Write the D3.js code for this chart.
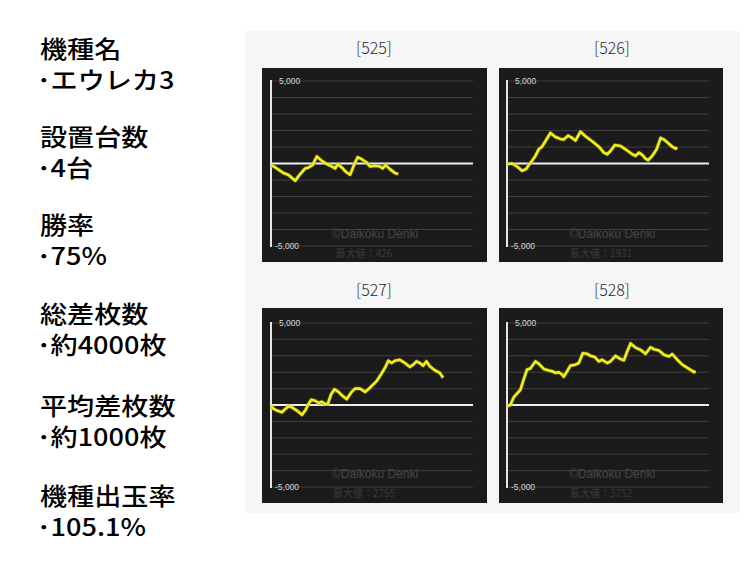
<!DOCTYPE html>
<html><head><meta charset="utf-8">
<script src="https://cdn.jsdelivr.net/npm/d3@7"></script>
<style>
html,body{margin:0;padding:0;background:#fff;}
svg{display:block;}
</style></head>
<body>
<script>
// ---- Data ----
const infoHeaders = ["機種名","設置台数","勝率","総差枚数","平均差枚数","機種出玉率"];
const infoValues  = ["･エウレカ3","･4台","･75%","･約4000枚","･約1000枚","･105.1%"];

const machineIds = ["[525]","[526]","[527]","[528]"];
const maxLabels  = ["最大値：426","最大値：1931","最大値：2755","最大値：3752"];
const yTicks = [5000,-5000];
const yTickLabels = ["5,000","-5,000"];
const gridValues = [-5000,-4000,-3000,-2000,-1000,1000,2000,3000,4000,5000];

// games played (x) and coin difference (y) per machine
const games525 = [0,171,500,697,960,1158,1355,1487,1645,1816,2013,2211,2408,2539,2645,2803,2961,3132,3329,3434,3592,3789,3921,4118,4316,4421,4539,4711,4908,5039];
const diff525  = [-100,-240,-580,-700,-1040,-640,-300,-240,-100,426,160,-40,-180,-300,-40,-240,-500,-680,60,380,260,60,-180,-140,-180,-300,-100,-340,-580,-640];

const games526 = [0,198,397,595,754,860,992,1124,1256,1388,1521,1719,1917,2116,2248,2420,2579,2711,2909,3107,3372,3636,3835,3967,4099,4271,4496,4694,4959,5091,5223,5355,5488,5593,5752,5924,6083,6215,6413,6545,6678,6744];
const diff526  = [-40,0,-180,-440,-340,-100,160,460,860,1020,1350,1850,1610,1490,1450,1690,1550,1390,1931,1650,1350,1020,660,560,760,1120,1060,860,560,460,660,520,300,200,460,860,1550,1450,1200,1020,900,960];

const games527 = [0,105,237,434,566,697,829,1026,1224,1355,1487,1592,1750,1882,2013,2145,2250,2382,2513,2671,2829,3000,3197,3329,3526,3724,3855,4053,4184,4355,4513,4645,4776,4908,5105,5303,5500,5632,5763,5895,6026,6158,6289,6487,6684,6816];
const diff527  = [-40,-240,-340,-440,-240,-80,-140,-340,-600,-340,60,320,260,120,200,60,60,660,960,800,560,360,800,1000,1000,800,960,1260,1460,1860,2260,2700,2560,2700,2755,2560,2320,2460,2660,2560,2400,2660,2360,2120,1960,1660];

const games528 = [0,132,264,397,529,661,793,926,1124,1256,1455,1626,1785,1917,2050,2182,2248,2380,2512,2711,2843,3002,3174,3306,3478,3636,3769,3967,4099,4297,4496,4628,4760,4893,5091,5289,5488,5686,5818,6017,6215,6413,6545,6744,6942,7207,7405,7471];
const diff528  = [-80,0,460,700,920,1560,2160,2220,2660,2520,2200,2120,2060,1960,2000,1860,1720,2060,2400,2460,2560,3160,3120,3000,2920,2660,2760,2560,2660,3000,2800,2720,3260,3752,3500,3360,3120,3520,3400,3320,3060,2960,3100,2760,2460,2200,2000,2060];

const seriesGames = [games525,games526,games527,games528];
const seriesDiffs = [diff525,diff526,diff527,diff528];
const xMaxGames = 8000;

// ---- Drawing ----
const W=750,H=566;
const svg=d3.select("body").append("svg").attr("width",W).attr("height",H);

// left info text
const info=svg.append("g").attr("font-family","'Noto Sans CJK JP','Noto Sans',sans-serif").attr("fill","#000").attr("font-weight",500);
const headerBase=[58,146,234,323,415,505];
infoHeaders.forEach((t,i)=>{
  info.append("text").attr("transform",`translate(40,${headerBase[i]}) scale(1.13,1)`)
    .attr("font-size",24).text(t);
  info.append("text").attr("transform",`translate(37,${headerBase[i]+31}) scale(1.13,1)`)
    .attr("font-size",24).text(infoValues[i]);
});

// backdrop
svg.append("rect").attr("x",245).attr("y",31).attr("width",495).attr("height",482).attr("fill","#f6f6f6");

const panels=[
  {x:262,y:68,w:225,h:194,tx:374,ty:54},
  {x:499,y:68,w:224,h:194,tx:612,ty:54},
  {x:262,y:308,w:225,h:195,tx:374,ty:296},
  {x:499,y:308,w:224,h:195,tx:612,ty:296}
];

panels.forEach((p,i)=>{
  const g=svg.append("g");
  g.append("text").attr("x",p.tx).attr("y",p.ty).attr("text-anchor","middle")
    .attr("font-family","'Noto Sans CJK JP',sans-serif").attr("font-weight",300).attr("font-size",16).attr("fill","#2a2a2a")
    .text(machineIds[i]);
  g.append("rect").attr("x",p.x).attr("y",p.y).attr("width",p.w).attr("height",p.h).attr("fill","#1b1b1b");
  const ax=p.x+ (i%2===0?9:8);
  const top=p.y+13+(i>=2?2:0), bot=p.y+178+(i>=2?1:0);
  const right=ax+202;
  const y=d3.scaleLinear().domain([-5000,5000]).range([bot,top]);
  const x=d3.scaleLinear().domain([0,xMaxGames]).range([ax,right]);
  // grid
  g.selectAll("line.grid").data(gridValues).enter().append("line")
    .attr("x1",ax).attr("x2",right).attr("y1",d=>y(d)).attr("y2",d=>y(d))
    .attr("stroke","#3e3e3e").attr("stroke-width",1);
  // watermark
  g.append("text").attr("x",p.x+113).attr("y",p.y+170).attr("text-anchor","middle")
    .attr("font-family","'Liberation Sans',Arial,sans-serif").attr("font-size",12).attr("fill","#474747")
    .text("©Daikoku Denki");
  g.append("text").attr("x",p.x+102).attr("y",p.y+189).attr("text-anchor","middle")
    .attr("font-family","'Noto Sans CJK JP',sans-serif").attr("font-size",10).attr("fill","#3a3a3a")
    .text(maxLabels[i]);
  // zero line
  g.append("line").attr("x1",ax).attr("x2",right).attr("y1",y(0)).attr("y2",y(0))
    .attr("stroke","#eeeeee").attr("stroke-width",2);
  // y axis
  g.append("line").attr("x1",ax).attr("x2",ax).attr("y1",top-1).attr("y2",bot+1)
    .attr("stroke","#e6e6e6").attr("stroke-width",2);
  yTicks.forEach((v,k)=>{
    g.append("text").attr("x",ax+(v>0?8:4)).attr("y",y(v)+3).attr("font-family","'Liberation Sans',Arial,sans-serif")
      .attr("font-size",8.5).attr("fill","#d8d8d8").text(yTickLabels[k]);
  });
  // series
  const pts=seriesGames[i].map((gm,k)=>[gm,seriesDiffs[i][k]]);
  const line=d3.line().x(d=>x(d[0])).y(d=>y(d[1]));
  g.append("path").datum(pts).attr("d",line).attr("fill","none")
    .attr("stroke","#8a8a10").attr("stroke-width",4).attr("stroke-linejoin","round").attr("opacity",0.55);
  g.append("path").datum(pts).attr("d",line).attr("fill","none")
    .attr("stroke","#f0ee1e").attr("stroke-width",2.6).attr("stroke-linejoin","round");
});
</script>
</body></html>
